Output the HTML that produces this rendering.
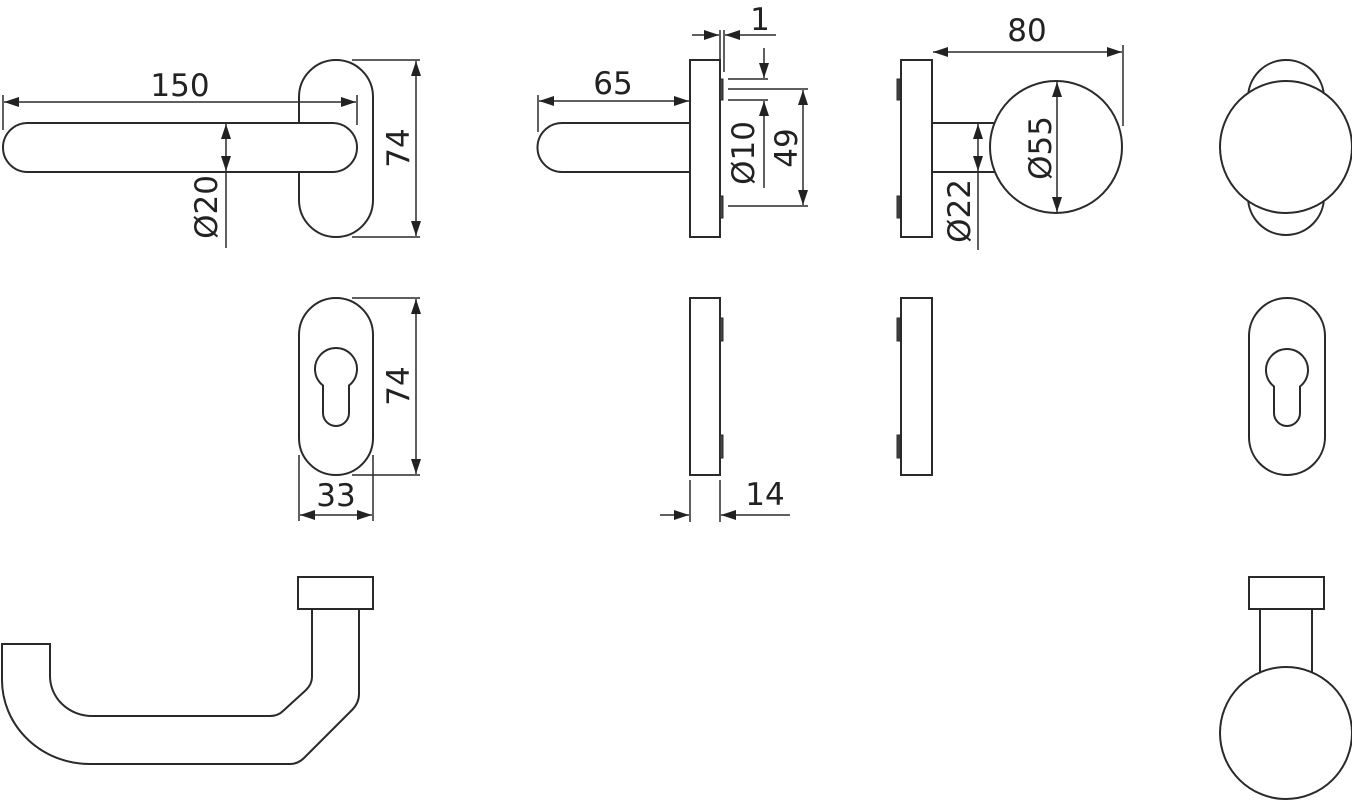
<!DOCTYPE html>
<html><head><meta charset="utf-8"><style>
html,body{margin:0;padding:0;background:#fff;}
svg{display:block;}
text{font-family:"DejaVu Sans","Liberation Sans",sans-serif;font-size:31px;fill:#222;}
</style></head><body>
<svg width="1352" height="800" viewBox="0 0 1352 800" xmlns="http://www.w3.org/2000/svg">
<defs>
<marker id="a" viewBox="0 0 15 10" refX="15" refY="5" markerWidth="15" markerHeight="10" markerUnits="userSpaceOnUse" orient="auto-start-reverse">
<path d="M0,0 L15,5 L0,10 z" fill="#222"/></marker>
</defs>
<g fill="none" stroke="#2a2a2a" stroke-width="2">
<!-- Top-left lever -->
<rect x="299" y="60" width="74" height="177" rx="37" fill="#fff"/>
<rect x="3" y="123" width="354" height="49" rx="24.5" fill="#fff"/>
<line x1="3" y1="95" x2="3" y2="130" stroke-width="1.5"/>
<line x1="357" y1="95" x2="357" y2="125" stroke-width="1.5"/>
<line x1="4" y1="102" x2="356" y2="102" stroke-width="1.5" marker-start="url(#a)" marker-end="url(#a)"/>
<line x1="226" y1="124" x2="226" y2="171" stroke-width="1.5" marker-start="url(#a)" marker-end="url(#a)"/>
<line x1="226" y1="171" x2="226" y2="248" stroke-width="1.5"/>
<line x1="352" y1="60" x2="420" y2="60" stroke-width="1.5"/>
<line x1="352" y1="237" x2="420" y2="237" stroke-width="1.5"/>
<line x1="416" y1="61" x2="416" y2="236" stroke-width="1.5" marker-start="url(#a)" marker-end="url(#a)"/>

<!-- Top-middle lever side -->
<path d="M690,123 H562 A24.5,24.5 0 0 0 562,172 H690" fill="#fff"/>
<rect x="690" y="60" width="30" height="177" fill="#fff"/>
<rect x="720" y="79" width="3" height="21" fill="#444" stroke-width="1"/>
<rect x="720" y="196" width="3" height="22" fill="#444" stroke-width="1"/>
<line x1="538" y1="95" x2="538" y2="132" stroke-width="1.5"/>
<line x1="539" y1="101" x2="689" y2="101" stroke-width="1.5" marker-start="url(#a)" marker-end="url(#a)"/>
<line x1="720" y1="30" x2="720" y2="60" stroke-width="1.5"/>
<line x1="724" y1="30" x2="724" y2="72" stroke-width="1.5"/>
<line x1="692" y1="35" x2="719" y2="35" stroke-width="1.5" marker-end="url(#a)"/>
<line x1="776" y1="35" x2="725" y2="35" stroke-width="1.5" marker-end="url(#a)"/>
<line x1="728" y1="79" x2="768" y2="79" stroke-width="1.5"/>
<line x1="728" y1="89" x2="808" y2="89" stroke-width="1.5"/>
<line x1="728" y1="100" x2="768" y2="100" stroke-width="1.5"/>
<line x1="728" y1="206" x2="808" y2="206" stroke-width="1.5"/>
<line x1="764" y1="48" x2="764" y2="78" stroke-width="1.5" marker-end="url(#a)"/>
<line x1="764" y1="188" x2="764" y2="101" stroke-width="1.5" marker-end="url(#a)"/>
<line x1="803" y1="90" x2="803" y2="205" stroke-width="1.5" marker-start="url(#a)" marker-end="url(#a)"/>

<!-- Top third knob side -->
<rect x="901" y="60" width="31" height="177" fill="#fff"/>
<rect x="897" y="79" width="3" height="21" fill="#444" stroke-width="1"/>
<rect x="897" y="196" width="3" height="22" fill="#444" stroke-width="1"/>
<line x1="932" y1="123" x2="996" y2="123"/>
<line x1="932" y1="172" x2="996" y2="172"/>
<circle cx="1056" cy="147" r="66" fill="#fff"/>
<line x1="1123" y1="45" x2="1123" y2="126" stroke-width="1.5"/>
<line x1="933" y1="52" x2="1122" y2="52" stroke-width="1.5" marker-start="url(#a)" marker-end="url(#a)"/>
<line x1="1057" y1="82" x2="1057" y2="212" stroke-width="1.5" marker-start="url(#a)" marker-end="url(#a)"/>
<line x1="978" y1="124" x2="978" y2="171" stroke-width="1.5" marker-start="url(#a)" marker-end="url(#a)"/>
<line x1="978" y1="171" x2="978" y2="250" stroke-width="1.5"/>

<!-- Top right knob front -->
<circle cx="1286" cy="98" r="38" fill="#fff"/>
<circle cx="1286" cy="197" r="38" fill="#fff"/>
<circle cx="1286" cy="147" r="66" fill="#fff"/>

<!-- Row 2 escutcheon -->
<rect x="299" y="298" width="74" height="177" rx="37"/>
<path d="M323,385.5 A21,21 0 1 1 349,385.5 V413 A13,13 0 0 1 323,413 Z"/>
<line x1="352" y1="298" x2="420" y2="298" stroke-width="1.5"/>
<line x1="352" y1="475" x2="420" y2="475" stroke-width="1.5"/>
<line x1="416" y1="299" x2="416" y2="474" stroke-width="1.5" marker-start="url(#a)" marker-end="url(#a)"/>
<line x1="299" y1="455" x2="299" y2="521" stroke-width="1.5"/>
<line x1="373" y1="455" x2="373" y2="521" stroke-width="1.5"/>
<line x1="300" y1="515" x2="372" y2="515" stroke-width="1.5" marker-start="url(#a)" marker-end="url(#a)"/>

<rect x="690" y="298" width="30" height="177"/>
<rect x="720" y="318" width="3" height="23" fill="#444" stroke-width="1"/>
<rect x="720" y="435" width="3" height="23" fill="#444" stroke-width="1"/>
<line x1="690" y1="480" x2="690" y2="522" stroke-width="1.5"/>
<line x1="720" y1="480" x2="720" y2="522" stroke-width="1.5"/>
<line x1="660" y1="515" x2="689" y2="515" stroke-width="1.5" marker-end="url(#a)"/>
<line x1="790" y1="515" x2="721" y2="515" stroke-width="1.5" marker-end="url(#a)"/>

<rect x="901" y="298" width="31" height="177"/>
<rect x="897" y="318" width="3" height="23" fill="#444" stroke-width="1"/>
<rect x="897" y="435" width="3" height="23" fill="#444" stroke-width="1"/>

<rect x="1249" y="298" width="76" height="177" rx="38"/>
<path d="M1274,386.5 A21,21 0 1 1 1300,386.5 V413 A13,13 0 0 1 1274,413 Z"/>

<!-- Row 3 lever top view -->
<rect x="298" y="577" width="75" height="32"/>
<path d="M312,609 V677 Q312,684 306,690 L283,711 Q278,716 270,716 H92 A42,40 0 0 1 50,676 V644 H2 V680 A88,84 0 0 0 92,764 H290 Q298,764 304,758 L352,710 Q359,703 359,694 V609"/>

<rect x="1249" y="577" width="75" height="32"/>
<line x1="1260" y1="609" x2="1260" y2="672"/>
<line x1="1312" y1="609" x2="1312" y2="672"/>
<circle cx="1286" cy="733" r="66" fill="#fff"/>
</g>

<text x="180" y="96" text-anchor="middle">150</text>
<text transform="translate(217,207) rotate(-90)" text-anchor="middle">Ø20</text>
<text transform="translate(409,148) rotate(-90)" text-anchor="middle">74</text>
<text x="613" y="94" text-anchor="middle">65</text>
<text x="760" y="30" text-anchor="middle">1</text>
<text transform="translate(754,153) rotate(-90)" text-anchor="middle">Ø10</text>
<text transform="translate(797,148) rotate(-90)" text-anchor="middle">49</text>
<text x="1027" y="41" text-anchor="middle">80</text>
<text transform="translate(1051,148) rotate(-90)" text-anchor="middle">Ø55</text>
<text transform="translate(970,211) rotate(-90)" text-anchor="middle">Ø22</text>
<text transform="translate(409,386) rotate(-90)" text-anchor="middle">74</text>
<text x="336" y="506" text-anchor="middle">33</text>
<text x="765" y="505" text-anchor="middle">14</text>
</svg>
</body></html>
